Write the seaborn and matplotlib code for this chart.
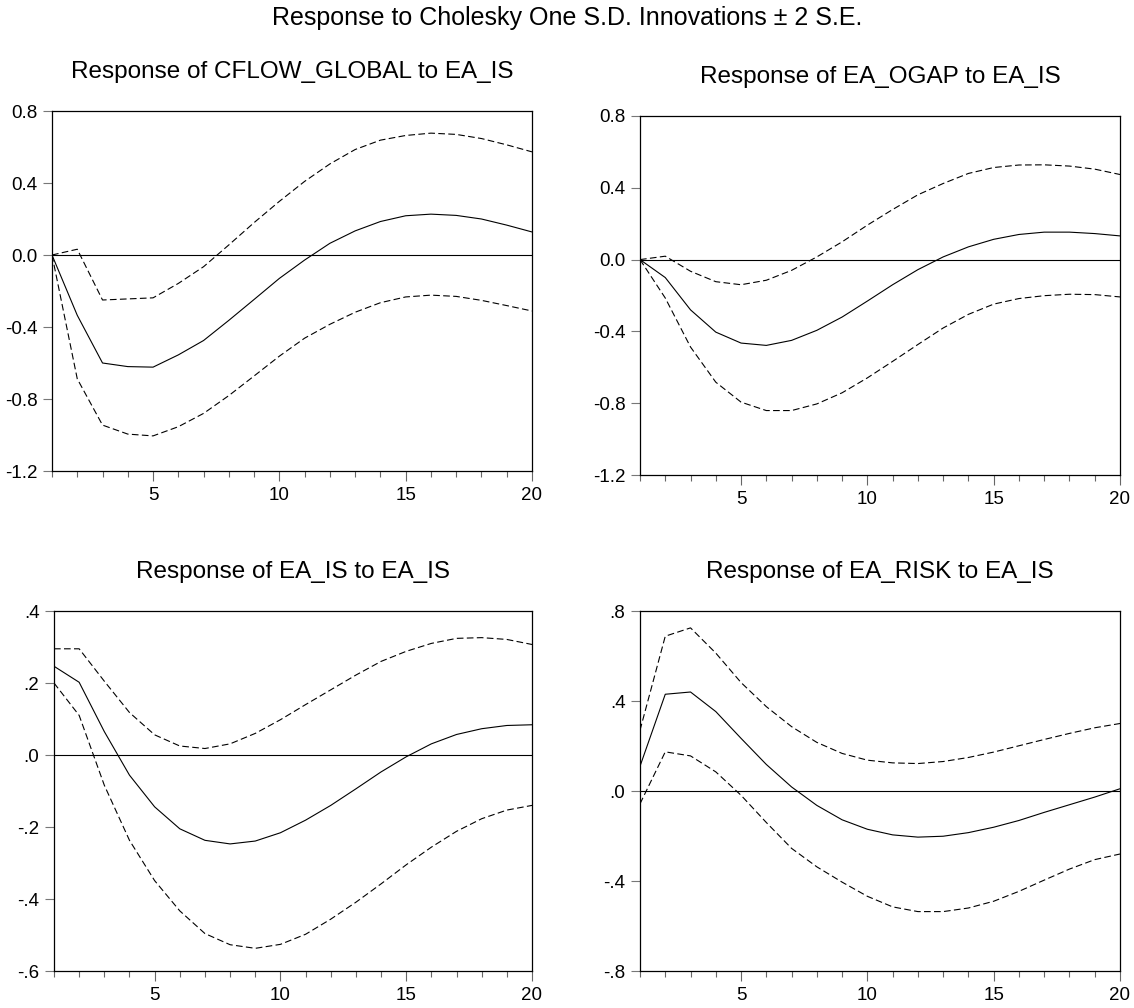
import numpy as np
import pandas as pd
import matplotlib
matplotlib.use('Agg')
import matplotlib.pyplot as plt
import seaborn as sns
from matplotlib.ticker import FuncFormatter

sns.set_theme(style='white')
plt.rcParams['font.family'] = ['Liberation Sans', 'DejaVu Sans']
plt.rcParams['text.color'] = 'black'

# 脉冲响应期数
steps = list(range(1, 21))

# Response of CFLOW_GLOBAL to EA_IS
cflow_irf = [0.0, -0.335, -0.60, -0.62, -0.623, -0.555, -0.475, -0.363, -0.247, -0.130,
             -0.028, 0.065, 0.134, 0.186, 0.218, 0.227, 0.220, 0.200, 0.166, 0.128]
cflow_upper = [0.0, 0.032, -0.25, -0.244, -0.238, -0.158, -0.065, 0.056, 0.180, 0.298,
               0.409, 0.506, 0.586, 0.638, 0.664, 0.677, 0.670, 0.647, 0.612, 0.573]
cflow_lower = [0.0, -0.688, -0.945, -0.995, -1.005, -0.954, -0.880, -0.781, -0.672, -0.562,
               -0.462, -0.385, -0.318, -0.265, -0.233, -0.223, -0.230, -0.252, -0.281, -0.311]

# Response of EA_OGAP to EA_IS
ogap_irf = [0.0, -0.10, -0.28, -0.404, -0.465, -0.478, -0.450, -0.394, -0.320, -0.231,
            -0.140, -0.056, 0.015, 0.071, 0.113, 0.140, 0.153, 0.153, 0.145, 0.132]
ogap_upper = [0.0, 0.019, -0.065, -0.123, -0.140, -0.115, -0.060, 0.015, 0.099, 0.192,
              0.279, 0.361, 0.424, 0.480, 0.513, 0.527, 0.528, 0.521, 0.504, 0.474]
ogap_lower = [0.0, -0.214, -0.487, -0.683, -0.794, -0.841, -0.841, -0.804, -0.742, -0.659,
              -0.567, -0.473, -0.381, -0.305, -0.248, -0.217, -0.201, -0.193, -0.195, -0.208]

# Response of EA_IS to EA_IS
is_irf = [0.2465, 0.202, 0.065, -0.056, -0.144, -0.205, -0.237, -0.247, -0.239, -0.216,
          -0.181, -0.140, -0.094, -0.047, -0.005, 0.031, 0.057, 0.073, 0.082, 0.084]
is_upper = [0.295, 0.295, 0.205, 0.118, 0.056, 0.025, 0.018, 0.031, 0.060, 0.098,
            0.140, 0.181, 0.222, 0.260, 0.288, 0.310, 0.324, 0.326, 0.321, 0.307]
is_lower = [0.200, 0.110, -0.084, -0.237, -0.349, -0.433, -0.496, -0.527, -0.537, -0.526,
            -0.498, -0.456, -0.409, -0.358, -0.305, -0.256, -0.212, -0.177, -0.153, -0.140]

# Response of EA_RISK to EA_IS
risk_irf = [0.110, 0.430, 0.440, 0.353, 0.234, 0.118, 0.018, -0.064, -0.128, -0.170,
            -0.195, -0.205, -0.201, -0.185, -0.161, -0.131, -0.095, -0.061, -0.027, 0.010]
risk_upper = [0.270, 0.688, 0.725, 0.613, 0.482, 0.375, 0.286, 0.216, 0.167, 0.137,
              0.125, 0.122, 0.131, 0.149, 0.173, 0.201, 0.229, 0.256, 0.281, 0.300]
risk_lower = [-0.057, 0.174, 0.156, 0.085, -0.019, -0.140, -0.255, -0.337, -0.405, -0.468,
              -0.515, -0.536, -0.536, -0.520, -0.490, -0.446, -0.396, -0.347, -0.305, -0.280]

titles = ['Response of CFLOW_GLOBAL to EA_IS', 'Response of EA_OGAP to EA_IS',
          'Response of EA_IS to EA_IS', 'Response of EA_RISK to EA_IS']
y_limits = [(-1.2, 0.8), (-1.2, 0.8), (-0.6, 0.4), (-0.8, 0.8)]
y_ticks = [[-1.2, -0.8, -0.4, 0.0, 0.4, 0.8],
           [-1.2, -0.8, -0.4, 0.0, 0.4, 0.8],
           [-0.6, -0.4, -0.2, 0.0, 0.2, 0.4],
           [-0.8, -0.4, 0.0, 0.4, 0.8]]
lead_zero = [True, True, False, False]


def long_frame(irf, upper, lower):
    """把三条线整理成长表"""
    parts = []
    for name, vals in [('irf', irf), ('upper', upper), ('lower', lower)]:
        parts.append(pd.DataFrame({'step': steps, 'value': vals, 'band': name}))
    return pd.concat(parts, ignore_index=True)


def fmt_factory(keep_zero):
    def fmt(v, pos):
        s = f'{v:.1f}'
        if not keep_zero:
            s = s.replace('0.', '.')
        return s
    return FuncFormatter(fmt)


W, H = 1134, 1008
fig = plt.figure(figsize=(W / 100, H / 100), dpi=100)

# 各子图位置（像素：left, top, right, bottom）
boxes = [(52, 111, 532, 471), (640, 116, 1120, 475),
         (54, 611, 532, 971), (640, 611, 1120, 971)]

series = [(cflow_irf, cflow_upper, cflow_lower),
          (ogap_irf, ogap_upper, ogap_lower),
          (is_irf, is_upper, is_lower),
          (risk_irf, risk_upper, risk_lower)]

for i, (irf, up, lo) in enumerate(series):
    l, t, r, b = boxes[i]
    ax = fig.add_axes([l / W, 1 - b / H, (r - l) / W, (b - t) / H])
    df = long_frame(irf, up, lo)
    sns.lineplot(data=df, x='step', y='value', style='band',
                 dashes={'irf': '', 'upper': (6, 3), 'lower': (6, 3)},
                 color='black', linewidth=0.8, legend=False, ax=ax)
    ax.axhline(0, color='black', linewidth=0.8, zorder=1)

    ax.set_xlim(1, 20)
    ax.set_ylim(*y_limits[i])
    ax.set_xticks([5, 10, 15, 20])
    ax.set_xticks(steps, minor=True)
    ax.set_yticks(y_ticks[i])
    ax.yaxis.set_major_formatter(fmt_factory(lead_zero[i]))
    ax.set_xlabel('')
    ax.set_ylabel('')

    ax.tick_params(axis='x', which='major', direction='out', length=7.5, width=0.8,
                   color='#666666', labelsize=13.5, labelcolor='black', pad=4, bottom=True)
    ax.tick_params(axis='x', which='minor', direction='out', length=4, width=0.8,
                   color='#666666', bottom=True)
    ax.tick_params(axis='y', which='major', direction='out', length=6.5, width=0.8,
                   color='#777777', labelsize=13.5, labelcolor='black', pad=4, left=True)
    for sp in ax.spines.values():
        sp.set_visible(True)
        sp.set_color('black')
        sp.set_linewidth(0.9)

    ax.set_title(titles[i], fontsize=17.5, pad=24, color='black')

fig.text(0.5, 1 - 25 / H, 'Response to Cholesky One S.D. Innovations \u00b1 2 S.E.',
         ha='center', va='baseline', fontsize=18, color='black')

fig.savefig('out.png', dpi=100)
